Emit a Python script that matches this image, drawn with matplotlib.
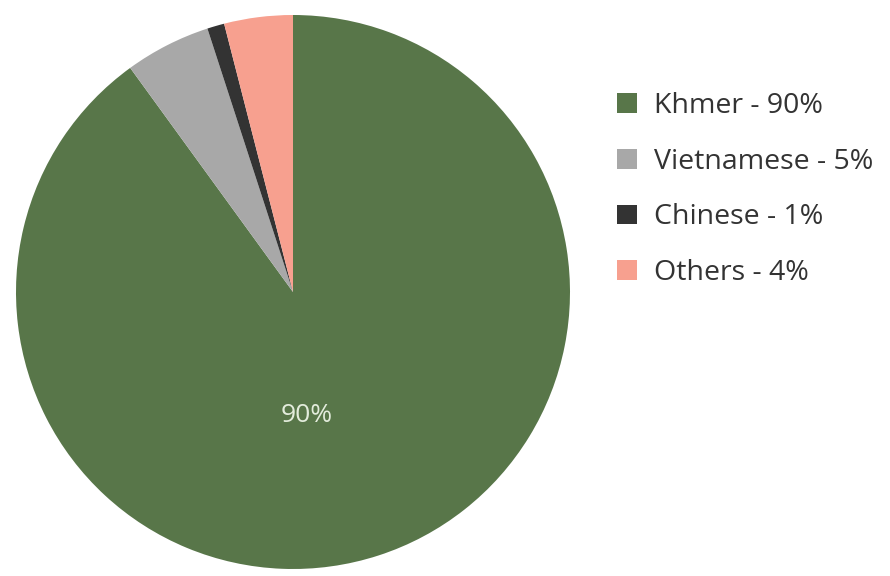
import matplotlib
matplotlib.use("Agg")
import matplotlib.pyplot as plt
from matplotlib.patches import Patch

groups = ["Khmer", "Vietnamese", "Chinese", "Others"]
shares = [90, 5, 1, 4]
colors = ["#587649", "#a8a8a8", "#333333", "#f7a08f"]

plt.rcParams["font.family"] = ["Open Sans", "DejaVu Sans"]

fig = plt.figure(figsize=(8.9, 5.76), dpi=100)
# pie spans x 16..570, y 15..569 px
ax = fig.add_axes([16 / 890, 7 / 576, 554 / 890, 554 / 576])
ax.pie(shares, colors=colors, startangle=90, counterclock=False,
       radius=1, wedgeprops=dict(linewidth=0))
ax.set_xlim(-1, 1)
ax.set_ylim(-1, 1)
ax.set_aspect("equal")
ax.axis("off")

ax.text(0.05, -0.445, f"{shares[0]}%", color="#e3ecdc", fontsize=19,
        ha="center", va="center")

handles = [Patch(facecolor=c, edgecolor="none") for c in colors]
labels = [f"{g} - {s}%" for g, s in zip(groups, shares)]
fig.legend(handles, labels, loc="upper left",
           bbox_to_anchor=(603 / 890, 1 - 78 / 576), frameon=False,
           fontsize=20.5, handlelength=0.7, handleheight=0.7,
           handletextpad=0.6, labelspacing=0.97, borderpad=0,
           labelcolor="#333333")

fig.savefig("out.png", dpi=100)
